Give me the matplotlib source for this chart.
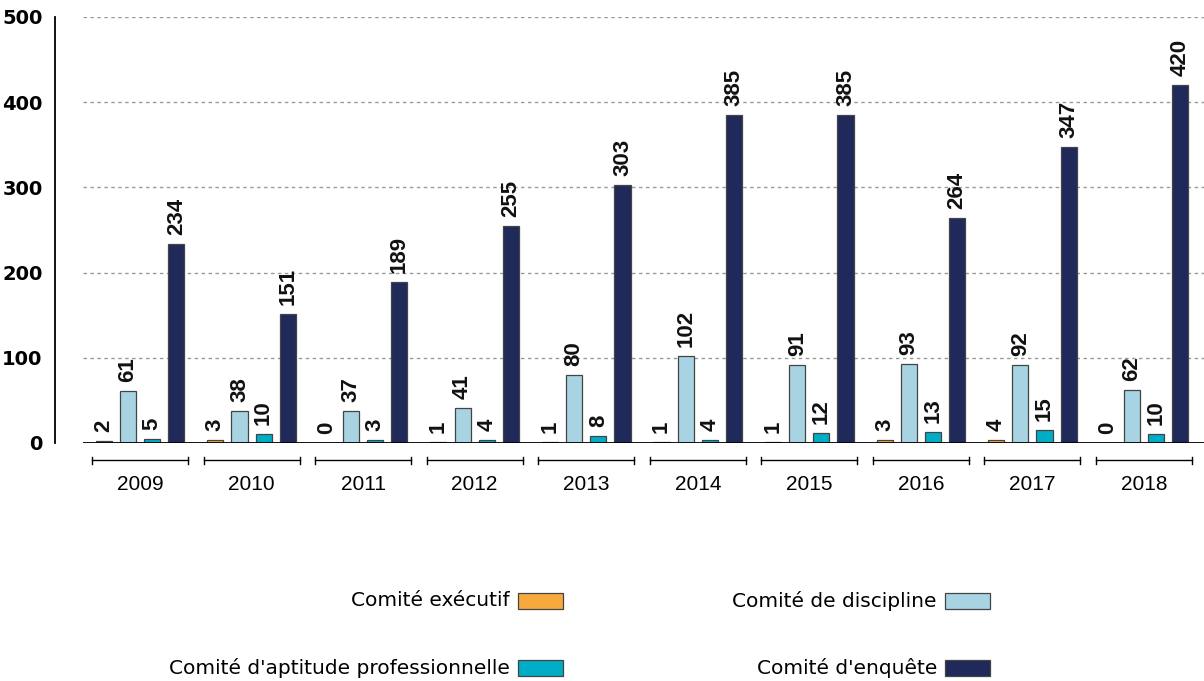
import numpy as np
import matplotlib.pyplot as plt
from matplotlib.patches import Rectangle

plt.rcParams['font.family'] = ['Liberation Sans', 'DejaVu Sans']

years = ['2009', '2010', '2011', '2012', '2013', '2014', '2015', '2016', '2017', '2018']
executif = [2, 3, 0, 1, 1, 1, 1, 3, 4, 0]
discipline = [61, 38, 37, 41, 80, 102, 91, 93, 92, 62]
aptitude = [5, 10, 3, 4, 8, 4, 12, 13, 15, 10]
enquete = [234, 151, 189, 255, 303, 385, 385, 264, 347, 420]

series_names = ['Comité exécutif', 'Comité de discipline',
                "Comité d'aptitude professionnelle", "Comité d'enquête"]
series_colors = ['#f8a93e', '#a7d3e2', '#00adc6', '#1f2a5b']
y_ticks = [0, 100, 200, 300, 400, 500]

fig = plt.figure(figsize=(12.04, 6.81), dpi=100)
ax = fig.add_axes([55 / 1204, 1 - 443 / 681, (1204 - 55) / 1204, 426 / 681])

x = np.arange(len(years))
offsets = [-0.325, -0.108, 0.108, 0.325]
width = 0.145
all_series = [executif, discipline, aptitude, enquete]

for vals, off, col in zip(all_series, offsets, series_colors):
    bars = ax.bar(x + off, vals, width, color=col, edgecolor='#444444',
                  linewidth=0.9, zorder=3)
    for b, v in zip(bars, vals):
        ax.annotate(str(v), (b.get_x() + b.get_width() / 2, v),
                    xytext=(0, 6.5), textcoords='offset points',
                    rotation=90, ha='center', va='bottom',
                    fontsize=16, fontweight='bold', color='#111111')

x_left, x_right = -0.762, 9.538
base_left = -0.511
ax.set_xlim(x_left, x_right)
ax.set_ylim(0, 500)

# dashed grid and solid baseline
ax.hlines(y_ticks[1:], base_left, x_right, colors='#9a9a9a',
          linestyles=(0, (2.5, 2.5)), linewidth=1, zorder=1)
ax.hlines(0, base_left, x_right, colors='black', linewidth=1.3, zorder=4)

for s in ['top', 'right', 'bottom']:
    ax.spines[s].set_visible(False)
ax.spines['left'].set_linewidth(1.3)

ax.set_yticks(y_ticks)
ax.set_yticklabels([str(t) for t in y_ticks], fontsize=14, fontweight='bold',
                   family='DejaVu Sans')
ax.tick_params(axis='y', length=0, pad=9)
ax.set_xticks([])

# year brackets beneath the groups
trans = ax.get_xaxis_transform()
for i, yr in enumerate(years):
    ax.plot([i - 0.43, i + 0.43], [-0.041, -0.041], color='black',
            linewidth=1, transform=trans, clip_on=False)
    for e in (i - 0.43, i + 0.43):
        ax.plot([e, e], [-0.049, -0.033], color='black', linewidth=1,
                transform=trans, clip_on=False)
    ax.text(i, -0.097, yr, transform=trans, ha='center', va='center',
            fontsize=15)

# legend in two columns, label to the left of each swatch
legend_pos = [(510, 601), (937, 601), (510, 668), (937, 668)]
for name, col, (tx, ty) in zip(series_names, series_colors, legend_pos):
    fig.text(tx / 1204, 1 - ty / 681, name, ha='right', va='center',
             fontsize=14.5, family='DejaVu Sans')
    fig.add_artist(Rectangle(((tx + 8) / 1204, 1 - (ty + 8) / 681),
                             45 / 1204, 16 / 681, transform=fig.transFigure,
                             facecolor=col, edgecolor='#444444', linewidth=0.9))

fig.savefig('out.png', dpi=100)
